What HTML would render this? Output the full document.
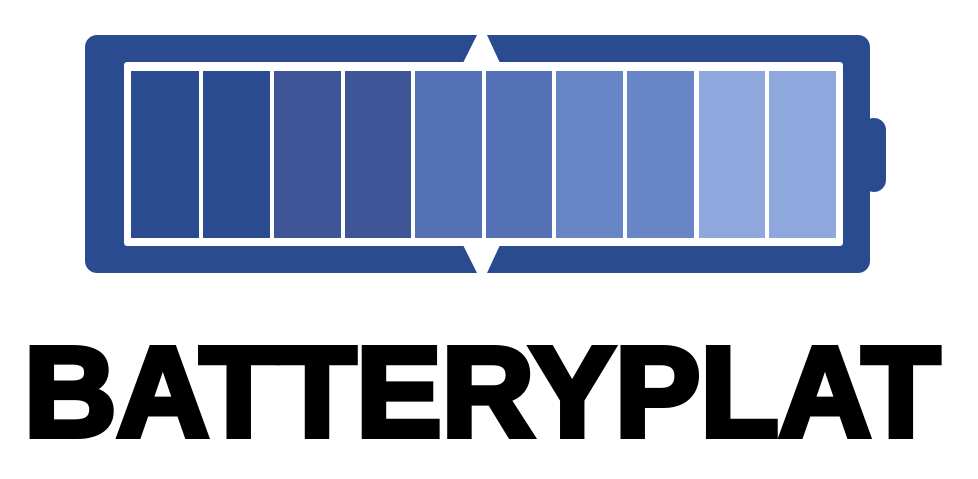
<!DOCTYPE html>
<html><head><meta charset="utf-8"><style>html,body{margin:0;padding:0;background:#fff;width:978px;height:479px;overflow:hidden}</style></head>
<body>
<svg width="978" height="479" viewBox="0 0 978 479" xmlns="http://www.w3.org/2000/svg">
<rect x="85" y="35" width="785" height="238" rx="12" fill="#2a4b8f"/>
<rect x="862" y="118" width="24" height="74" rx="12" fill="#2a4b8f"/>
<rect x="124" y="62" width="719" height="184" rx="3" fill="#fff"/>
<polygon points="463,63 477,35 487,35 500,63" fill="#fff"/>
<polygon points="463,245 477,273 487,273 500,245" fill="#fff"/>
<g>
<rect x="131" y="71" width="68" height="167" fill="#2a4b8f"/>
<rect x="203" y="71" width="67" height="167" fill="#2a4b8f"/>
<rect x="274" y="71" width="67" height="167" fill="#3e5697"/>
<rect x="345" y="71" width="66" height="167" fill="#3e5697"/>
<rect x="415" y="71" width="67" height="167" fill="#5571b6"/>
<rect x="486" y="71" width="66" height="167" fill="#5571b6"/>
<rect x="556" y="71" width="67" height="167" fill="#6885c6"/>
<rect x="627" y="71" width="67" height="167" fill="#6885c6"/>
<rect x="699" y="71" width="66" height="167" fill="#8ea8de"/>
<rect x="769" y="71" width="67" height="167" fill="#8ea8de"/>
</g>
<text x="24" y="436" font-family="Liberation Sans, sans-serif" font-weight="bold" font-size="128" textLength="916" lengthAdjust="spacingAndGlyphs" fill="#000" stroke="#000" stroke-width="6" stroke-linejoin="miter">BATTERYPLAT</text>
</svg>
</body></html>
